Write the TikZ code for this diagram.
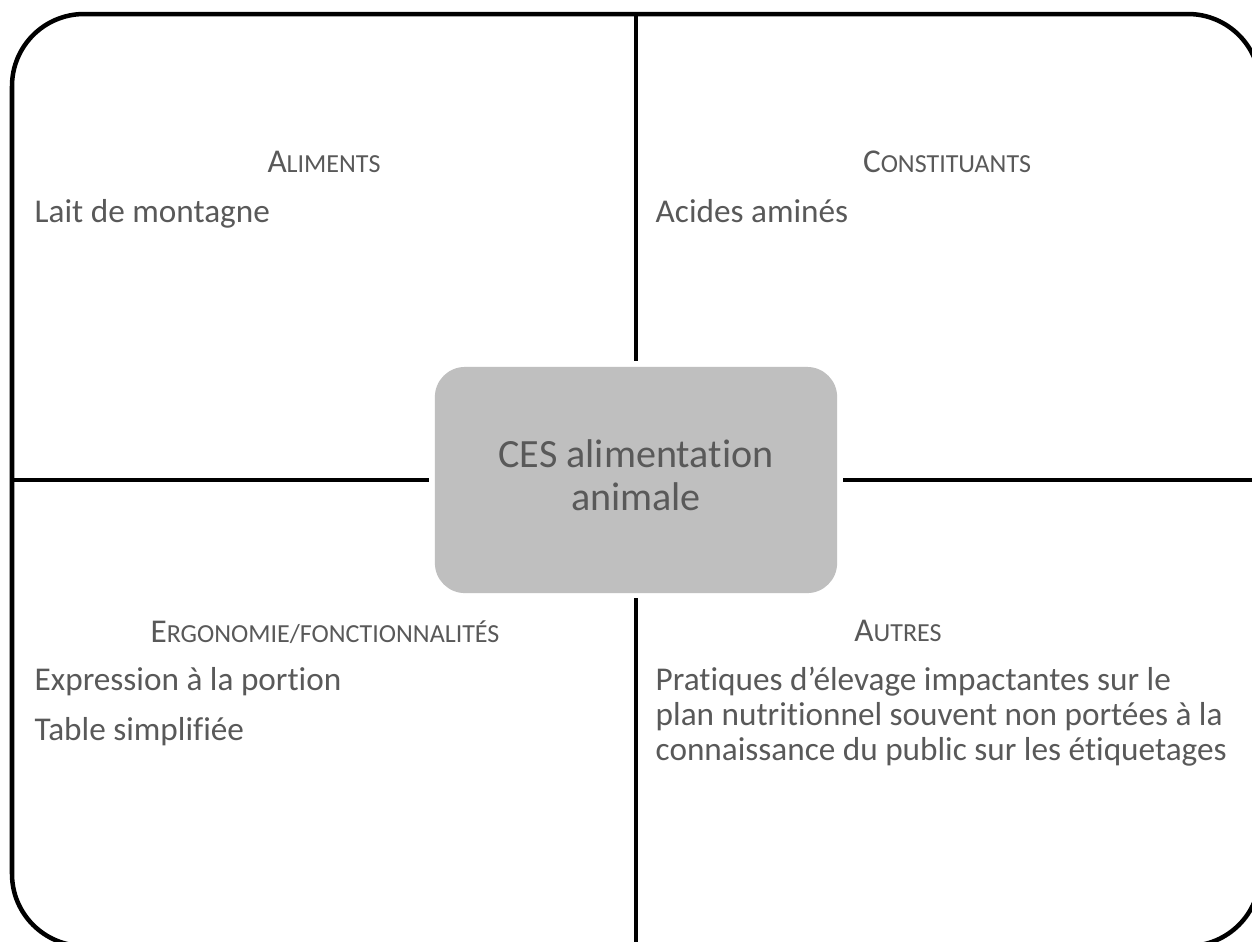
\documentclass[tikz,border=0pt]{standalone}
\usepackage{fontspec}
\setmainfont{Carlito}[Ligatures=NoCommon]
\definecolor{txtgray}{HTML}{595959}
\definecolor{hubgray}{HTML}{BFBFBF}
% heading in small capitals: full-size initial, reduced capitals after it
\newcommand{\capsinit}[2]{#1{\fontsize{7.4}{8}\selectfont #2}}
\begin{document}
\begin{tikzpicture}[x=0.01cm,y=-0.01cm,
  frame/.style={draw=black, line width=1.28pt, rounded corners=0.72cm},
  divider/.style={draw=black, line width=1.4pt},
  hub/.style={fill=hubgray, rounded corners=0.3cm, minimum width=4.02cm,
    minimum height=2.26cm, inner sep=0, outer sep=0, text=txtgray,
    font=\fontsize{11.4}{12.4}\selectfont, align=center, text depth=0.1cm},
  heading/.style={anchor=base, text=txtgray, inner sep=0,
    font=\fontsize{9.45}{10}\selectfont},
  item/.style={anchor=base west, text=txtgray, inner sep=0,
    font=\fontsize{9.45}{10}\selectfont},
]
\useasboundingbox (0,0) rectangle (1252,941);
\clip (0,0) rectangle (1252,941);
\fill[white] (0,0) rectangle (1252,941);

% outer frame: its right and bottom sides run just past the edge
\coordinate (frameNW) at (12,14);
\coordinate (frameSE) at (1260,946);
\draw[frame] (frameNW) rectangle (frameSE);

% central box
\node[hub] (hub) at (636,480) {CES alimentation\\animale};

% the four dividers between the quadrants
\draw[divider] ([yshift=0.06cm]hub.north) -- (hub.north |- frameNW);
\draw[divider] ([yshift=-0.05cm]hub.south) -- (hub.south |- frameSE);
\draw[divider] ([xshift=-0.06cm]hub.west) -- (hub.west -| frameNW);
\draw[divider] ([xshift=0.06cm]hub.east) -- (hub.east -| frameSE);

% top left quadrant
\node[heading] (hAliments) at (324,172) {\capsinit{A}{LIMENTS}};
\node[item] (tLait) at (34,222) {Lait de montagne};

% top right quadrant
\node[heading] (hConstituants) at (947,172) {\capsinit{C}{ONSTITUANTS}};
\node[item] (tAcides) at (655,222) {Acides aminés};

% bottom left quadrant
\node[heading] (hErgonomie) at (325,642) {\capsinit{E}{RGONOMIE/FONCTIONNALITÉS}};
\node[item] (tExpression) at (34,690) {Expression à la portion};
\node[item] (tTable) at (34,740) {Table simplifiée};

% bottom right quadrant
\node[heading] (hAutres) at (898,641) {\capsinit{A}{UTRES}};
\node[item] (tAutresA) at (655,690) {Pratiques d’élevage impactantes sur le};
\node[item] (tAutresB) at (655,725) {plan nutritionnel souvent non portées à la};
\node[item] (tAutresC) at (655,760) {connaissance du public sur les étiquetages};
\end{tikzpicture}
\end{document}
